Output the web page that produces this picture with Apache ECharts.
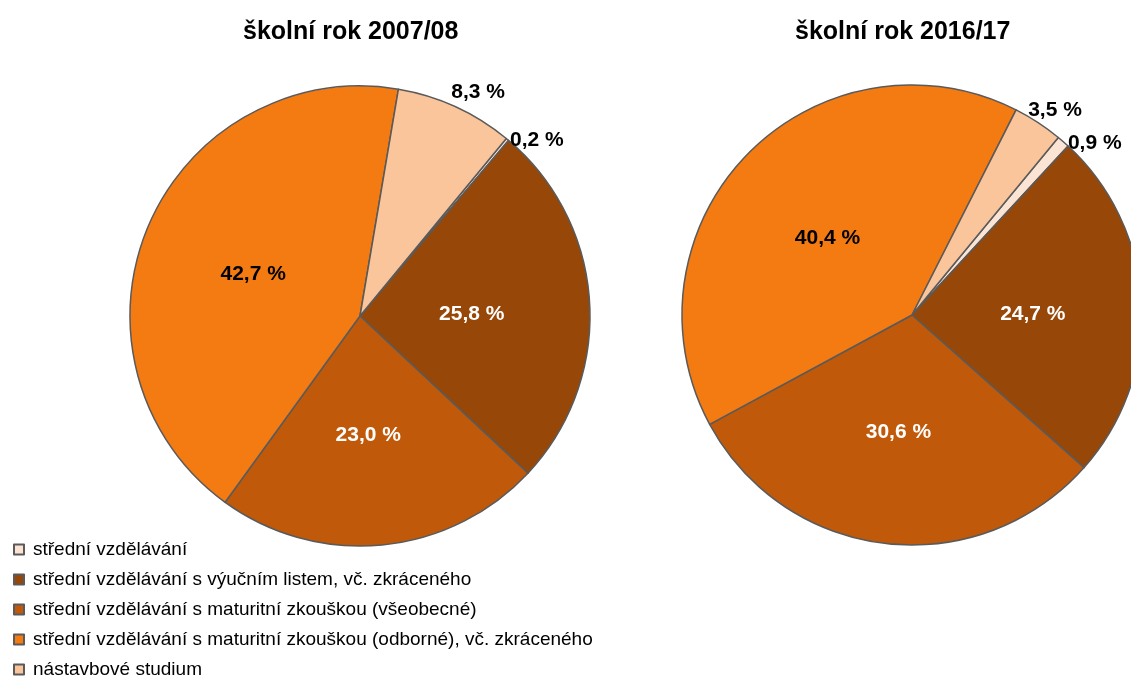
<!DOCTYPE html>
<html>
<head>
<meta charset="utf-8">
<script src="https://cdn.jsdelivr.net/npm/echarts@6/dist/echarts.min.js"></script>
<style>
  html, body { margin: 0; padding: 0; background: #fff; }
  #chart { width: 1131px; height: 680px; }
</style>
</head>
<body>
<div id="chart"></div>
<script>
// categories (legend order)
var categories = [
  'střední vzdělávání',
  'střední vzdělávání s výučním listem, vč. zkráceného',
  'střední vzdělávání s maturitní zkouškou (všeobecné)',
  'střední vzdělávání s maturitní zkouškou (odborné), vč. zkráceného',
  'nástavbové studium'
];
var titles = ['školní rok 2007/08', 'školní rok 2016/17'];
var values2007 = [0.2, 25.8, 23.0, 42.7, 8.3];
var values2016 = [0.9, 24.7, 30.6, 40.4, 3.5];
var colors = ['#FCE4D4', '#974708', '#C05A0A', '#F47A12', '#FAC59B'];
// label colours for inside labels
var labelColors = ['#000', '#fff', '#fff', '#000', '#000'];
var FONT = 'Liberation Sans, Arial, sans-serif';

// small label nudges ("series-dataIndex": [dx, dy])
var labelNudge = {
  '0-4': [-6, -11], '0-0': [0, 4], '0-1': [-6, 5], '0-3': [2, 4], '0-2': [-3, 2],
  '1-4': [-12, -9], '1-0': [2, 4], '1-1': [3, 5], '1-3': [0, 6]
};

function fmt(v) {
  return v.toFixed(1).replace('.', ',') + ' %';
}

function buildData(values, outside) {
  var data = [];
  for (var i = 0; i < values.length; i++) {
    var isOut = outside.indexOf(i) >= 0;
    data.push({
      name: categories[i],
      value: values[i],
      label: {
        position: isOut ? 'outside' : 'inside',
        color: isOut ? '#000' : labelColors[i]
      },
      labelLine: { show: false }
    });
  }
  return data;
}

function pieSeries(values, center, outside) {
  return {
    type: 'pie',
    center: center,
    radius: 230,
    startAngle: 50.5,
    clockwise: true,
    avoidLabelOverlap: false,
    emphasis: { disabled: true },
    itemStyle: { borderColor: '#5a5a5a', borderWidth: 1.5 },
    label: {
      formatter: function (p) { return fmt(p.value); },
      fontFamily: FONT,
      fontWeight: 'bold',
      fontSize: 21,
      overflow: 'none',
      distanceToLabelLine: 0
    },
    labelLine: { show: false, length: 4, length2: 0 },
    labelLayout: function (params) {
      var n = labelNudge[params.seriesIndex + '-' + params.dataIndex];
      return n ? { dx: n[0], dy: n[1] } : {};
    },
    data: buildData(values, outside)
  };
}

var chart = echarts.init(document.getElementById('chart'));
var option = {
  animation: false,
  color: colors,
  title: [
    {
      text: titles[0], left: 238, top: 15,
      textStyle: { fontFamily: FONT, fontWeight: 'bold', fontSize: 25, color: '#000' }
    },
    {
      text: titles[1], left: 790, top: 15,
      textStyle: { fontFamily: FONT, fontWeight: 'bold', fontSize: 25, color: '#000' }
    }
  ],
  legend: {
    orient: 'vertical',
    left: 13,
    top: 540,
    padding: 0,
    icon: 'rect',
    itemWidth: 10,
    itemHeight: 10,
    itemGap: 11,
    selectedMode: false,
    data: categories,
    textStyle: { fontFamily: FONT, fontSize: 19, color: '#000', padding: [0, 0, 0, 4] }
  },
  series: [
    pieSeries(values2007, [360, 316], [0, 4]),
    pieSeries(values2016, [912, 315], [0, 4])
  ]
};
chart.setOption(option);
</script>
</body>
</html>
